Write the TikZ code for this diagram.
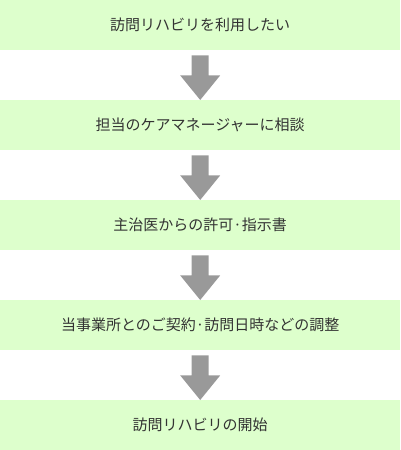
\documentclass[tikz,border=0pt]{standalone}
\usepackage{fontspec}
\newfontfamily\cjk{Noto Sans CJK JP}
\begin{document}
\begin{tikzpicture}[x=1bp,y=-1bp,
  stepbox/.style={fill=boxgreen,draw=none,minimum width=400bp,minimum height=50bp,inner sep=0pt,anchor=north west,font=\cjk\fontsize{15bp}{17bp}\selectfont,text=txtgray},
  downarrow/.style={fill=arrowgray,draw=none}]
\definecolor{boxgreen}{HTML}{DDFFCC}
\definecolor{arrowgray}{HTML}{999999}
\definecolor{txtgray}{HTML}{333333}
\useasboundingbox (0,0) rectangle (400,450);
\node[stepbox] (s1) at (0,0) {訪問リハビリを利用したい};
\node[stepbox] (s2) at (0,100) {担当のケアマネージャーに相談};
\node[stepbox] (s3) at (0,200) {主治医からの許可·指示書};
\node[stepbox] (s4) at (0,300) {当事業所とのご契約·訪問日時などの調整};
\node[stepbox] (s5) at (0,400) {訪問リハビリの開始};
\foreach \a/\b in {s1/s2,s2/s3,s3/s4,s4/s5}{
  \fill[arrowgray] ([xshift=-8.5bp,yshift=-5bp]\a.south) -- ([xshift=8.5bp,yshift=-5bp]\a.south)
    -- ([xshift=8.5bp,yshift=-25bp]\a.south) -- ([xshift=20bp,yshift=-25bp]\a.south)
    -- (\b.north) -- ([xshift=-20bp,yshift=-25bp]\a.south) -- ([xshift=-8.5bp,yshift=-25bp]\a.south) -- cycle;
}
\end{tikzpicture}
\end{document}
